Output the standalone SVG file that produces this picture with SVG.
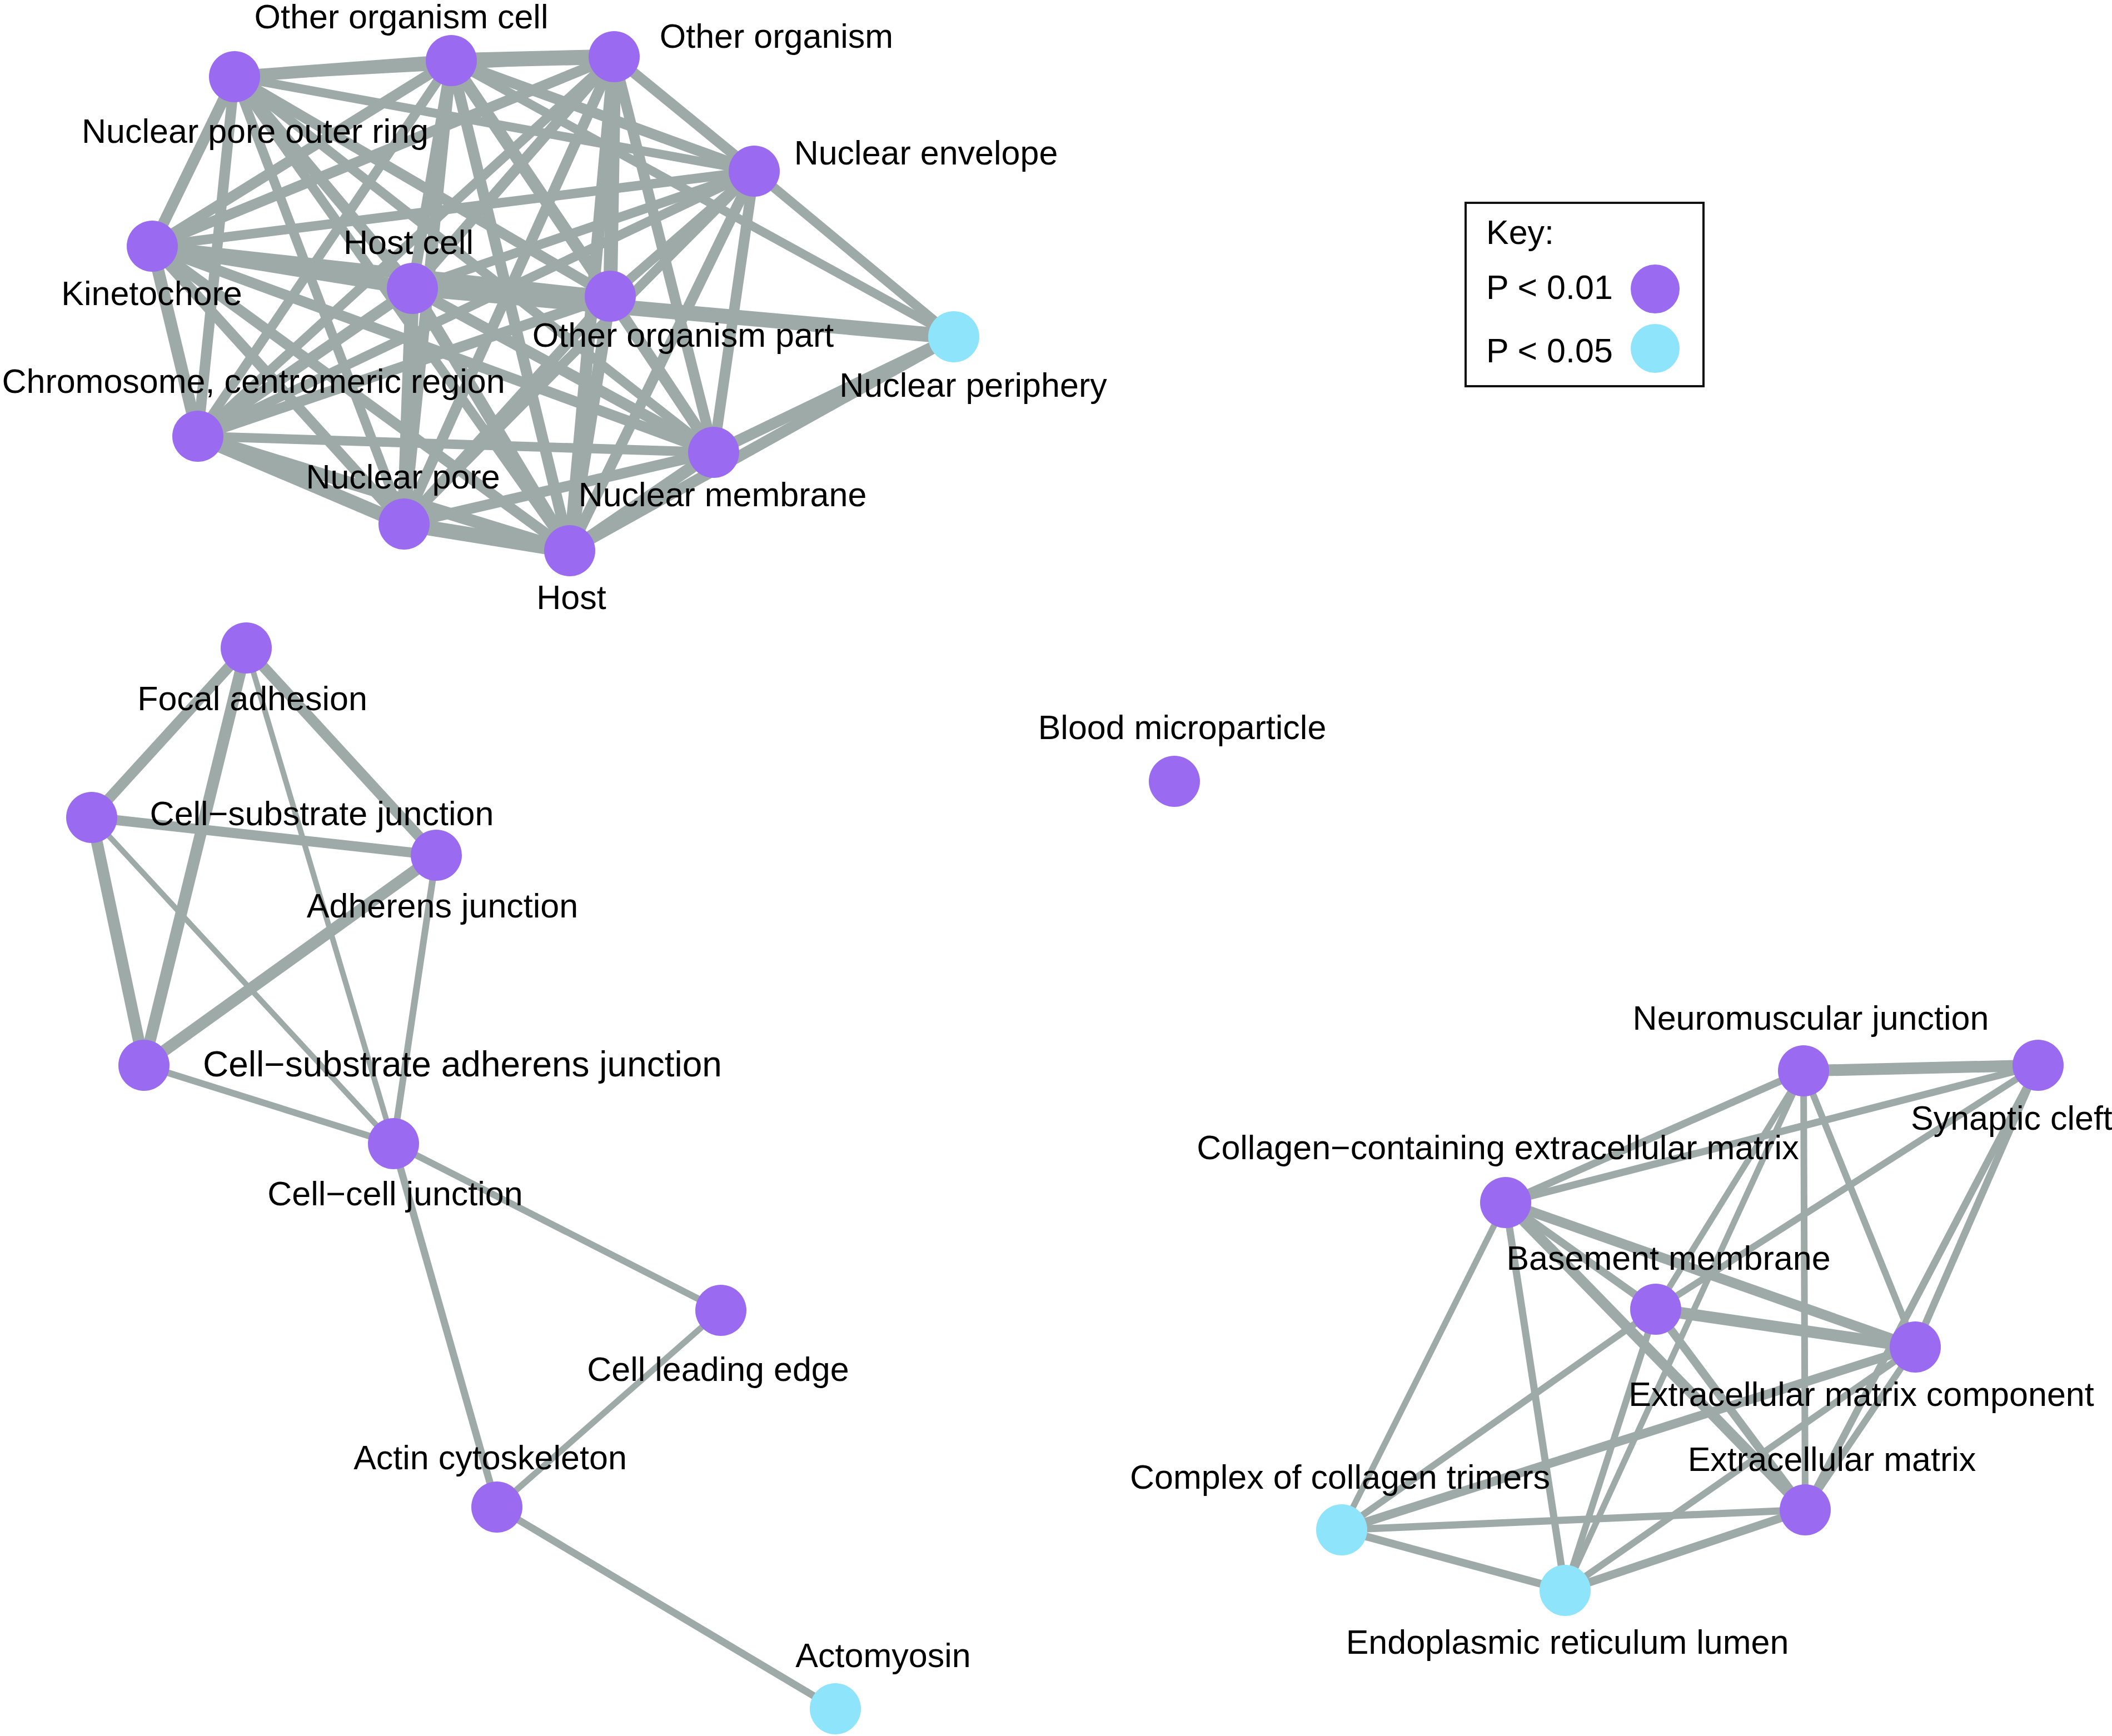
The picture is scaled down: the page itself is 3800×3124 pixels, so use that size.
<svg xmlns="http://www.w3.org/2000/svg" width="3800" height="3124" viewBox="0 0 3800 3124">
<style>
.e line{stroke:#9eaaa7;stroke-linecap:butt}
.p{fill:#9a6bf0}
.b{fill:#8ee4fb}
text{font-family:"Liberation Sans",Arial,Helvetica,sans-serif;font-size:61px;fill:#000}
.m{text-anchor:middle}
</style>
<rect width="3800" height="3124" fill="#fff"/>
<g id="connectors" class="e">
<!-- top cluster -->
<line x1="812" y1="109" x2="1105" y2="102" stroke-width="27"/>
<line x1="812" y1="109" x2="422" y2="138" stroke-width="22"/>
<line x1="812" y1="109" x2="1357" y2="308" stroke-width="19"/>
<line x1="812" y1="109" x2="274" y2="443" stroke-width="19"/>
<line x1="812" y1="109" x2="742" y2="519" stroke-width="19"/>
<line x1="812" y1="109" x2="1098" y2="533" stroke-width="22"/>
<line x1="812" y1="109" x2="356" y2="785" stroke-width="17"/>
<line x1="812" y1="109" x2="1284" y2="814" stroke-width="19"/>
<line x1="812" y1="109" x2="727" y2="943" stroke-width="20"/>
<line x1="812" y1="109" x2="1025" y2="991" stroke-width="20"/>
<line x1="1105" y1="102" x2="422" y2="138" stroke-width="16"/>
<line x1="1105" y1="102" x2="1357" y2="308" stroke-width="19"/>
<line x1="1105" y1="102" x2="274" y2="443" stroke-width="19"/>
<line x1="1105" y1="102" x2="742" y2="519" stroke-width="19"/>
<line x1="1105" y1="102" x2="1098" y2="533" stroke-width="25"/>
<line x1="1105" y1="102" x2="356" y2="785" stroke-width="17"/>
<line x1="1105" y1="102" x2="1284" y2="814" stroke-width="19"/>
<line x1="1105" y1="102" x2="727" y2="943" stroke-width="19"/>
<line x1="1105" y1="102" x2="1025" y2="991" stroke-width="22"/>
<line x1="422" y1="138" x2="1357" y2="308" stroke-width="16"/>
<line x1="422" y1="138" x2="274" y2="443" stroke-width="20"/>
<line x1="422" y1="138" x2="742" y2="519" stroke-width="20"/>
<line x1="422" y1="138" x2="1098" y2="533" stroke-width="19"/>
<line x1="422" y1="138" x2="356" y2="785" stroke-width="19"/>
<line x1="422" y1="138" x2="1284" y2="814" stroke-width="17"/>
<line x1="422" y1="138" x2="727" y2="943" stroke-width="17"/>
<line x1="422" y1="138" x2="1025" y2="991" stroke-width="17"/>
<line x1="1357" y1="308" x2="274" y2="443" stroke-width="17"/>
<line x1="1357" y1="308" x2="742" y2="519" stroke-width="17"/>
<line x1="1357" y1="308" x2="1098" y2="533" stroke-width="17"/>
<line x1="1357" y1="308" x2="356" y2="785" stroke-width="17"/>
<line x1="1357" y1="308" x2="1284" y2="814" stroke-width="19"/>
<line x1="1357" y1="308" x2="727" y2="943" stroke-width="17"/>
<line x1="1357" y1="308" x2="1025" y2="991" stroke-width="19"/>
<line x1="274" y1="443" x2="742" y2="519" stroke-width="25"/>
<line x1="274" y1="443" x2="1098" y2="533" stroke-width="20"/>
<line x1="274" y1="443" x2="356" y2="785" stroke-width="22"/>
<line x1="274" y1="443" x2="1284" y2="814" stroke-width="19"/>
<line x1="274" y1="443" x2="727" y2="943" stroke-width="19"/>
<line x1="274" y1="443" x2="1025" y2="991" stroke-width="19"/>
<line x1="742" y1="519" x2="1098" y2="533" stroke-width="27"/>
<line x1="742" y1="519" x2="356" y2="785" stroke-width="20"/>
<line x1="742" y1="519" x2="1284" y2="814" stroke-width="20"/>
<line x1="742" y1="519" x2="727" y2="943" stroke-width="25"/>
<line x1="742" y1="519" x2="1025" y2="991" stroke-width="22"/>
<line x1="1098" y1="533" x2="356" y2="785" stroke-width="19"/>
<line x1="1098" y1="533" x2="1284" y2="814" stroke-width="20"/>
<line x1="1098" y1="533" x2="727" y2="943" stroke-width="19"/>
<line x1="1098" y1="533" x2="1025" y2="991" stroke-width="22"/>
<line x1="356" y1="785" x2="1284" y2="814" stroke-width="17"/>
<line x1="356" y1="785" x2="727" y2="943" stroke-width="25"/>
<line x1="356" y1="785" x2="1025" y2="991" stroke-width="22"/>
<line x1="1284" y1="814" x2="727" y2="943" stroke-width="19"/>
<line x1="1284" y1="814" x2="1025" y2="991" stroke-width="22"/>
<line x1="727" y1="943" x2="1025" y2="991" stroke-width="27"/>
<line x1="1716" y1="606" x2="1357" y2="308" stroke-width="17"/>
<line x1="1716" y1="606" x2="812" y2="109" stroke-width="16"/>
<line x1="1716" y1="606" x2="742" y2="519" stroke-width="27"/>
<line x1="1716" y1="606" x2="1284" y2="814" stroke-width="20"/>
<line x1="1716" y1="606" x2="1025" y2="991" stroke-width="20"/>
<!-- left cluster -->
<line x1="443" y1="1166" x2="165" y2="1471" stroke-width="19"/>
<line x1="443" y1="1166" x2="259" y2="1917" stroke-width="21"/>
<line x1="443" y1="1166" x2="785" y2="1539" stroke-width="19"/>
<line x1="443" y1="1166" x2="708" y2="2058" stroke-width="10"/>
<line x1="165" y1="1471" x2="785" y2="1539" stroke-width="18"/>
<line x1="165" y1="1471" x2="259" y2="1917" stroke-width="21"/>
<line x1="165" y1="1471" x2="708" y2="2058" stroke-width="10"/>
<line x1="785" y1="1539" x2="259" y2="1917" stroke-width="21"/>
<line x1="785" y1="1539" x2="708" y2="2058" stroke-width="12"/>
<line x1="259" y1="1917" x2="708" y2="2058" stroke-width="12"/>
<line x1="708" y1="2058" x2="1297" y2="2358" stroke-width="12"/>
<line x1="708" y1="2058" x2="894" y2="2712" stroke-width="13"/>
<line x1="1297" y1="2358" x2="894" y2="2712" stroke-width="11"/>
<line x1="894" y1="2712" x2="1503" y2="3075" stroke-width="13"/>
<!-- right cluster -->
<line x1="3245" y1="1927" x2="3667" y2="1917" stroke-width="21"/>
<line x1="3245" y1="1927" x2="2709" y2="2164" stroke-width="13"/>
<line x1="2709" y1="2164" x2="3667" y2="1917" stroke-width="13"/>
<line x1="3245" y1="1927" x2="2979" y2="2356" stroke-width="11"/>
<line x1="3245" y1="1927" x2="2816" y2="2862" stroke-width="11"/>
<line x1="3245" y1="1927" x2="3446" y2="2424" stroke-width="12"/>
<line x1="3245" y1="1927" x2="3248" y2="2717" stroke-width="12"/>
<line x1="3667" y1="1917" x2="2979" y2="2356" stroke-width="12"/>
<line x1="3667" y1="1917" x2="3446" y2="2424" stroke-width="13"/>
<line x1="3667" y1="1917" x2="3248" y2="2717" stroke-width="13"/>
<line x1="2979" y1="2356" x2="2414" y2="2753" stroke-width="12"/>
<line x1="2709" y1="2164" x2="2979" y2="2356" stroke-width="14"/>
<line x1="2709" y1="2164" x2="3446" y2="2424" stroke-width="18"/>
<line x1="2709" y1="2164" x2="3248" y2="2717" stroke-width="19"/>
<line x1="2709" y1="2164" x2="2414" y2="2753" stroke-width="11"/>
<line x1="2709" y1="2164" x2="2816" y2="2862" stroke-width="13"/>
<line x1="2979" y1="2356" x2="3446" y2="2424" stroke-width="21"/>
<line x1="2979" y1="2356" x2="3248" y2="2717" stroke-width="15"/>
<line x1="2979" y1="2356" x2="2816" y2="2862" stroke-width="12"/>
<line x1="3446" y1="2424" x2="2414" y2="2753" stroke-width="16"/>
<line x1="3446" y1="2424" x2="2816" y2="2862" stroke-width="12"/>
<line x1="3446" y1="2424" x2="3248" y2="2717" stroke-width="12"/>
<line x1="3248" y1="2717" x2="2414" y2="2753" stroke-width="13"/>
<line x1="3248" y1="2717" x2="2816" y2="2862" stroke-width="15"/>
<line x1="2414" y1="2753" x2="2816" y2="2862" stroke-width="14"/>
</g>
<g id="node-other-organism-cell"><circle class="p" cx="812" cy="109" r="46"/><text class="m" x="722" y="51">Other organism cell</text></g>
<g id="node-other-organism"><circle class="p" cx="1105" cy="102" r="46"/><text class="m" x="1397" y="86">Other organism</text></g>
<g id="node-nuclear-pore-outer-ring"><circle class="p" cx="422" cy="138" r="46"/><text class="m" x="459" y="257">Nuclear pore outer ring</text></g>
<g id="node-nuclear-envelope"><circle class="p" cx="1357" cy="308" r="46"/><text class="m" x="1666" y="296">Nuclear envelope</text></g>
<g id="node-kinetochore"><circle class="p" cx="274" cy="443" r="46"/><text class="m" x="273" y="549">Kinetochore</text></g>
<g id="node-host-cell"><circle class="p" cx="742" cy="519" r="46"/><text class="m" x="735" y="457">Host cell</text></g>
<g id="node-other-organism-part"><circle class="p" cx="1098" cy="533" r="46"/><text class="m" x="1229" y="624">Other organism part</text></g>
<g id="node-nuclear-periphery"><circle class="b" cx="1716" cy="606" r="46"/><text class="m" x="1751" y="714">Nuclear periphery</text></g>
<g id="node-chromosome-centromeric-region"><circle class="p" cx="356" cy="785" r="46"/><text class="m" x="456" y="707">Chromosome, centromeric region</text></g>
<g id="node-nuclear-membrane"><circle class="p" cx="1284" cy="814" r="46"/><text class="m" x="1300" y="911">Nuclear membrane</text></g>
<g id="node-nuclear-pore"><circle class="p" cx="727" cy="943" r="46"/><text class="m" x="725" y="879">Nuclear pore</text></g>
<g id="node-host"><circle class="p" cx="1025" cy="991" r="46"/><text class="m" x="1028" y="1096">Host</text></g>
<g id="node-focal-adhesion"><circle class="p" cx="443" cy="1166" r="46"/><text class="m" x="454" y="1278">Focal adhesion</text></g>
<g id="node-cell-substrate-junction"><circle class="p" cx="165" cy="1471" r="46"/><text class="m" x="579" y="1485">Cell−substrate junction</text></g>
<g id="node-adherens-junction"><circle class="p" cx="785" cy="1539" r="46"/><text class="m" x="796" y="1651">Adherens junction</text></g>
<g id="node-cell-substrate-adherens-junction"><circle class="p" cx="259" cy="1917" r="46"/><text class="m" x="832" y="1937" style="font-size:64px">Cell−substrate adherens junction</text></g>
<g id="node-cell-cell-junction"><circle class="p" cx="708" cy="2058" r="46"/><text class="m" x="711" y="2169">Cell−cell junction</text></g>
<g id="node-cell-leading-edge"><circle class="p" cx="1297" cy="2358" r="46"/><text class="m" x="1292" y="2485">Cell leading edge</text></g>
<g id="node-actin-cytoskeleton"><circle class="p" cx="894" cy="2712" r="46"/><text class="m" x="882" y="2644">Actin cytoskeleton</text></g>
<g id="node-actomyosin"><circle class="b" cx="1503" cy="3075" r="46"/><text class="m" x="1589" y="3000">Actomyosin</text></g>
<g id="node-blood-microparticle"><circle class="p" cx="2113" cy="1406" r="46"/><text class="m" x="2127" y="1330">Blood microparticle</text></g>
<g id="node-neuromuscular-junction"><circle class="p" cx="3245" cy="1927" r="46"/><text class="m" x="3258" y="1853">Neuromuscular junction</text></g>
<g id="node-synaptic-cleft"><circle class="p" cx="3667" cy="1917" r="46"/><text x="3438" y="2033">Synaptic cleft</text></g>
<g id="node-collagen-containing-ecm"><circle class="p" cx="2709" cy="2164" r="46"/><text class="m" x="2695" y="2086">Collagen−containing extracellular matrix</text></g>
<g id="node-basement-membrane"><circle class="p" cx="2979" cy="2356" r="46"/><text class="m" x="3002" y="2285">Basement membrane</text></g>
<g id="node-ecm-component"><circle class="p" cx="3446" cy="2424" r="46"/><text class="m" x="3349" y="2530">Extracellular matrix component</text></g>
<g id="node-extracellular-matrix"><circle class="p" cx="3248" cy="2717" r="46"/><text class="m" x="3296" y="2647">Extracellular matrix</text></g>
<g id="node-complex-of-collagen-trimers"><circle class="b" cx="2414" cy="2753" r="46"/><text class="m" x="2411" y="2679">Complex of collagen trimers</text></g>
<g id="node-er-lumen"><circle class="b" cx="2816" cy="2862" r="46"/><text class="m" x="2820" y="2976">Endoplasmic reticulum lumen</text></g>
<g id="legend">
<rect x="2637" y="365" width="428" height="330" fill="#fff" stroke="#111" stroke-width="4"/>
<text x="2674" y="439">Key:</text>
<text x="2674" y="538">P &lt; 0.01</text>
<text x="2674" y="652">P &lt; 0.05</text>
<circle class="p" cx="2978" cy="520" r="44"/>
<circle class="b" cx="2978" cy="627" r="44"/>
</g>
</svg>
